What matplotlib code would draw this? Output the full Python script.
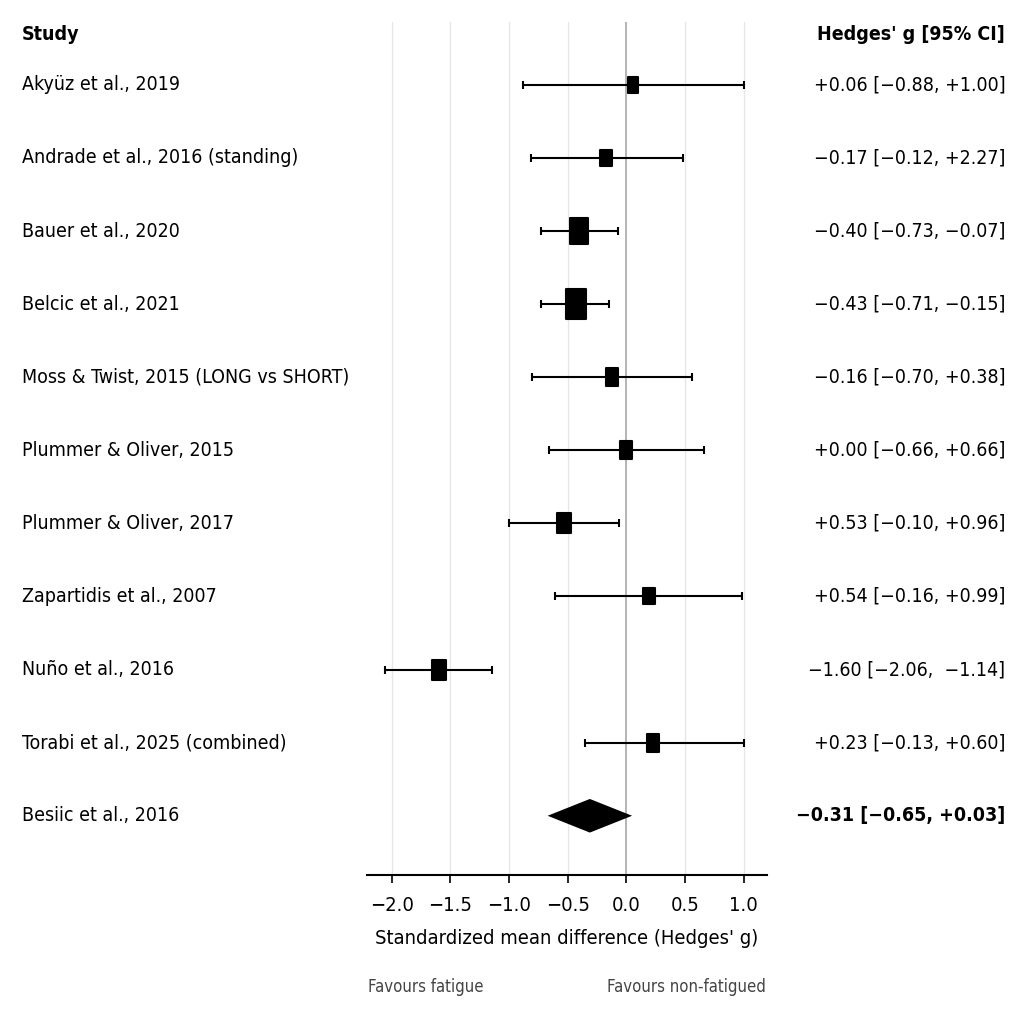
import matplotlib
matplotlib.use("Agg")
import matplotlib.pyplot as plt
from matplotlib.path import Path
from matplotlib.markers import MarkerStyle
from matplotlib import font_manager as fm
import matplotlib.transforms as mtrans
import numpy as np

studies = ["Akyüz et al., 2019", "Andrade et al., 2016 (standing)", "Bauer et al., 2020",
           "Belcic et al., 2021", "Moss & Twist, 2015 (LONG vs SHORT)", "Plummer & Oliver, 2015",
           "Plummer & Oliver, 2017", "Zapartidis et al., 2007", "Nuño et al., 2016",
           "Torabi et al., 2025 (combined)"]
est = [0.06, -0.17, -0.40, -0.425, -0.12, 0.00, -0.53, 0.19, -1.60, 0.23]
ci_lo = [-0.88, -0.81, -0.73, -0.725, -0.80, -0.66, -1.00, -0.61, -2.06, -0.35]
ci_hi = [1.00, 0.48, -0.07, -0.15, 0.56, 0.66, -0.06, 0.99, -1.14, 1.00]
weights = [5.9, 7.1, 15.5, 20.5, 7.9, 7.7, 10.6, 6.7, 9.7, 8.3]
ci_text = ["+0.06 [\u22120.88, +1.00]", "\u22120.17 [\u22120.12, +2.27]", "\u22120.40 [\u22120.73, \u22120.07]",
           "\u22120.43 [\u22120.71, \u22120.15]", "\u22120.16 [\u22120.70, +0.38]", "+0.00 [\u22120.66, +0.66]",
           "+0.53 [\u22120.10, +0.96]", "+0.54 [\u22120.16, +0.99]", "\u22121.60 [\u22122.06,  \u22121.14]",
           "+0.23 [\u22120.13, +0.60]"]
pooled_label = "Besiic et al., 2016"
pooled_est = -0.31
pooled_lo = -0.67
pooled_hi = 0.05
pooled_text = "\u22120.31 [\u22120.65, +0.03]"
xticks = [-2.0, -1.5, -1.0, -0.5, 0.0, 0.5, 1.0]

have_cond = any(f.name == "DejaVu Sans" and ("ondensed" in str(f.stretch) or "Condensed" in f.fname)
                for f in fm.fontManager.ttflist)
stretch = "condensed" if have_cond else "normal"
plt.rcParams["font.family"] = ["DejaVu Sans"]
plt.rcParams["font.stretch"] = stretch

fig = plt.figure(figsize=(10.32, 10.26), dpi=100)
ax = fig.add_axes([0.3556, 0.1472, 0.3876, 0.8314])

n = len(studies)
ys = np.arange(n)

for x in xticks:
    if x == 0.0:
        ax.axvline(x, color="#a0a0a0", lw=1.1, zorder=1)
    else:
        ax.axvline(x, color="#e6e6e6", lw=0.9, zorder=0)

ax.errorbar(est, ys, xerr=[np.array(est) - np.array(ci_lo), np.array(ci_hi) - np.array(est)],
            fmt="none", ecolor="black", elinewidth=1.5, capsize=3, capthick=1.5, zorder=2)

rect = Path([(-0.345, -0.5), (0.345, -0.5), (0.345, 0.5), (-0.345, 0.5), (-0.345, -0.5)],
            [Path.MOVETO, Path.LINETO, Path.LINETO, Path.LINETO, Path.CLOSEPOLY])
mstyle = MarkerStyle(rect, joinstyle="round")
for xv, yv, w in zip(est, ys, weights):
    h_px = 6.85 * np.sqrt(w) - 1.5
    ax.plot([xv], [yv], marker=mstyle, markersize=h_px * 0.72, color="black",
            markeredgewidth=1.5, markeredgecolor="black", linestyle="none", zorder=3)

yp = n
dh = 0.23
ax.fill([pooled_lo, pooled_est, pooled_hi, pooled_est], [yp, yp - dh, yp, yp + dh],
        color="black", zorder=3, lw=0)

ax.set_xlim(-2.21, 1.20)
ax.set_ylim(10.81, -0.86)
ax.set_yticks([])
for s in ["left", "right", "top"]:
    ax.spines[s].set_visible(False)
ax.spines["bottom"].set_linewidth(1.5)
ax.set_xticks(xticks)
ax.set_xticklabels([f"{t:.1f}".replace("-", "\u2212") for t in xticks], fontsize=14.5)
ax.tick_params(axis="x", length=6, width=1.2, pad=9)
ax.set_xlabel("Standardized mean difference (Hedges' g)", fontsize=14.5, labelpad=10)

tr = mtrans.blended_transform_factory(fig.transFigure, ax.transData)
for i, (lab, ct) in enumerate(zip(studies, ci_text)):
    fig.text(0.0213, i, lab, transform=tr, ha="left", va="center", fontsize=14)
    fig.text(0.974, i, ct, transform=tr, ha="right", va="center", fontsize=14)
fig.text(0.0213, yp, pooled_label, transform=tr, ha="left", va="center", fontsize=14)
fig.text(0.974, yp, pooled_text, transform=tr, ha="right", va="center", fontsize=14, fontweight="bold")

fig.text(0.0213, 1 - 35 / 1026, "Study", ha="left", va="center", fontsize=14, fontweight="bold")
fig.text(0.974, 1 - 35 / 1026, "Hedges' g [95% CI]", ha="right", va="center", fontsize=14, fontweight="bold")

fig.text(368 / 1032, 1 - 987 / 1026, "Favours fatigue", ha="left", va="center", fontsize=12, color="#444444")
fig.text(766 / 1032, 1 - 987 / 1026, "Favours non-fatigued", ha="right", va="center", fontsize=12, color="#444444")

fig.savefig("out.png", dpi=100, facecolor="white")
